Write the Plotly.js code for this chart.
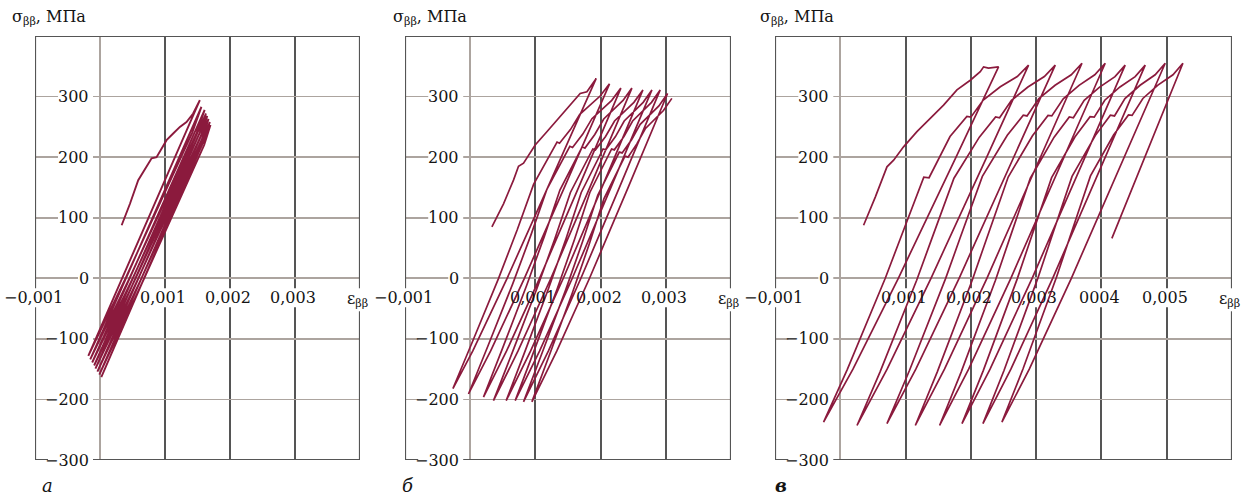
<!DOCTYPE html>
<html>
<head>
<meta charset="utf-8">
<script src="https://cdn.plot.ly/plotly-3.0.1.min.js"></script>
<style>
html,body{margin:0;padding:0;background:#fff;}
#chart{width:1258px;height:496px;}
</style>
</head>
<body>
<div id="chart"></div>
<script>
// ---------- data (strain eps, stress sig in MPa) ----------
// panel а
const eps_a = [0.000333,0.000461,0.000588,0.000691,0.000794,0.00087,0.000947,0.001024,0.001126,0.001229,0.001331,0.001433,0.001536,
  0.00034,-0.00018,
  0.000392,0.001418,0.00156,
  0.0004,-0.00015,
  0.000452,0.001488,0.00161,
  0.000457,-0.00012,
  0.000502,0.001534,0.00163,
  0.000505,-0.00009,
  0.000548,0.001551,0.00165,
  0.000545,-0.00007,
  0.000589,0.00157,0.00167,
  0.000592,-0.00004,
  0.000637,0.001591,0.00169,
  0.000638,-0.00001,
  0.00068,0.001603,0.0017,
  0.000678,0.00002];
const sig_a = [87.6,123,162,181,198,200,214,228,239,250,258,272,294,
  0,-128,
  0,240,283,
  0,-134,
  0,240,278,
  0,-139,
  0,240,272,
  0,-144,
  0,235,268,
  0,-149,
  0,230,263,
  0,-154,
  0,225,258,
  0,-159,
  0,220,253,
  0,-163];

// panel б
const eps_b = [0.000333,0.000511,0.000664,0.000741,0.000818,0.000997,0.001176,0.00138,0.00156,0.001687,0.00179,0.00184,0.001933,
  0.00119,0.000566,0.00004,-0.000265,
  0.000047,0.000432,0.00072,0.000972,0.001332,0.00137,0.001537,0.001681,0.001993,0.002137,
  0.001445,0.000831,0.000314,-0.000026,
  0.000278,0.000652,0.000932,0.001178,0.001528,0.00157,0.001727,0.001867,0.002171,0.002311,
  0.001663,0.001064,0.000558,0.000204,
  0.0005,0.000864,0.001137,0.001376,0.001718,0.00176,0.001911,0.002048,0.002344,0.00248,
  0.001835,0.001238,0.000734,0.000357,
  0.000655,0.001022,0.001297,0.001537,0.001881,0.00192,0.002076,0.002214,0.002511,0.002649,
  0.002021,0.001428,0.000927,0.000552,
  0.000843,0.0012,0.001468,0.001703,0.002038,0.00208,0.002228,0.002362,0.002653,0.002787,
  0.002159,0.001566,0.001065,0.00069,
  0.000979,0.001335,0.001602,0.001835,0.002169,0.00221,0.002358,0.002491,0.002781,0.002914,
  0.002289,0.001698,0.0012,0.000818,
  0.001105,0.001459,0.001724,0.001956,0.002287,0.00233,0.002475,0.002607,0.002894,0.003027,
  0.002423,0.00183,0.001329,0.000946,
  0.001225,0.001569,0.001826,0.002052,0.002374,0.00242,0.002556,0.002685,0.002964,0.003093];
const sig_b = [85,123,162,185,190,220,242,267,289,305,308,316,330,
  150,0,-120,-182,
  -101.5,-0.9,79.6,155,225,223,245.5,270.7,300.9,321,
  150,0,-120,-191,
  -110.2,-9.2,71.6,147.4,218,216,238,263.5,293.8,314,
  150,0,-120,-196,
  -114.4,-12.4,69.2,145.7,217.1,215,237.5,263,293.6,314,
  150,0,-120,-202,
  -119.9,-17.3,64.8,141.7,213.5,212,234,259.7,290.5,311,
  150,0,-120,-202,
  -119.9,-17.3,64.8,141.7,213.5,212,234,259.7,290.5,311,
  150,0,-120,-202,
  -119.9,-17.3,64.8,141.7,213.5,212,234,259.7,290.5,311,
  150,0,-120,-204,
  -122.6,-20.8,60.7,137,208.3,207,228.7,254.1,284.6,305,
  150,0,-120,-204,
  -123.8,-23.6,56.5,131.7,201.8,200,221.9,246.9,277,297];

// panel в
const eps_v = [0.000357,0.000536,0.000715,0.000817,0.000969,0.001174,0.001378,0.001582,0.001787,0.001991,0.002144,0.002195,0.00227,0.002424,
  0.001773,0.000889,0.000194,-0.000256,
  0.000108,0.000689,0.000922,0.001279,0.00136,0.001681,0.001939,0.002,0.00219,0.002451,0.002711,0.002884,
  0.002243,0.001389,0.000717,0.000256,
  0.000608,0.00117,0.001395,0.001741,0.00213,0.002379,0.00244,0.002622,0.002874,0.003126,0.003293,
  0.002661,0.00182,0.001157,0.000715,
  0.001061,0.001614,0.001835,0.002176,0.002558,0.002803,0.00286,0.003042,0.00329,0.003538,0.003702,
  0.00307,0.002246,0.001596,0.001149,
  0.001486,0.002025,0.00224,0.002572,0.002944,0.003182,0.00324,0.003415,0.003657,0.003898,0.004058,
  0.00343,0.002612,0.001966,0.001521,
  0.001851,0.002377,0.002587,0.002911,0.003275,0.003508,0.00357,0.003736,0.003972,0.004208,0.004364,
  0.003752,0.002938,0.002294,0.001864,
  0.00219,0.002709,0.002917,0.003237,0.003596,0.003826,0.00389,0.004051,0.004284,0.004517,0.004671,
  0.004063,0.003253,0.002613,0.002185,
  0.002509,0.003025,0.003232,0.00355,0.003908,0.004137,0.0042,0.00436,0.004592,0.004823,0.004977,
  0.004353,0.003539,0.002895,0.002476,
  0.002798,0.00331,0.003516,0.003832,0.004186,0.004414,0.00447,0.004635,0.004865,0.005096,0.005248,
  0.004664,0.00416];
const sig_v = [87.6,134,184,195,217,242,264,286,311,327,341,349,347,349,
  200,0,-150,-237.5,
  -150.3,0.1,66.1,166.9,166,234.1,267.1,266,294.2,316.1,333.1,352,
  200,0,-150,-243,
  -154.9,-3.2,63.4,165.2,233,266.3,265,293.7,315.7,333,352,
  200,0,-150,-240,
  -151.9,-0.2,66.4,168.2,236,269.3,268,296.7,318.7,336,355,
  200,0,-150,-243,
  -154.5,-2,65,167.2,235.4,268.9,268,296.4,318.5,335.9,355,
  200,0,-150,-243,
  -154.9,-3.2,63.4,165.2,233,266.3,265,293.7,315.7,333,352,
  200,0,-150,-240,
  -152.4,-1.4,64.9,166.1,233.6,266.8,266,294,315.9,333,352,
  200,0,-150,-240,
  -151.9,-0.2,66.4,168.2,236,269.3,268,296.7,318.7,336,355,
  200,0,-150,-237.5,
  -149.8,1.3,67.6,169,236.5,269.7,269,296.9,318.9,336,355,
  200,66];

// axes / labels
const yTickVals = [300,200,100,0,-100,-200,-300];
const yTickText = ['300','200','100','0','\u2212100','\u2212200','\u2212300'];
const xTickVals_a = [-0.001,0.001,0.002,0.003];
const xTickText_a = ['\u22120,001','0,001','0,002','0,003'];
const xTickVals_b = [-0.001,0.001,0.002,0.003];
const xTickText_b = ['\u22120,001','0,001','0,002','0,003'];
const xTickVals_v = [-0.001,0.001,0.002,0.003,0.004,0.005];
const xTickText_v = ['\u22120,001','0,001','0,002','0,003','0004','0,005'];
const xRanges = [[-0.001,0.004],[-0.001,0.004],[-0.001,0.006]];
const yRange = [-300,400];
const panelLetters = ['а','б','в'];
const yTitleText = 'σ<sub>ββ</sub>, МПа';
const xTitleText = 'ε<sub>ββ</sub>';

// ---------- layout ----------
const W = 1258, H = 496;
const CURVE = '#8b1a3d';
const DARK = '#555555';
const LIGHT = '#aca49f';
const TXT = '#141414';
const FONT = 'DejaVu Serif';
const FS = 16;

const pxDomains = [[35,360],[405,731],[775,1232]];
const yDom = [(H-460)/H, (H-36)/H];
const titleLeft = [10,391,758];
const letterX = [47,408,781];

const sets = [
  {eps: eps_a, sig: sig_a, xv: xTickVals_a, xt: xTickText_a},
  {eps: eps_b, sig: sig_b, xv: xTickVals_b, xt: xTickText_b},
  {eps: eps_v, sig: sig_v, xv: xTickVals_v, xt: xTickText_v}
];

const traces = [];
const layout = {
  width: W, height: H,
  margin: {l:0, r:0, t:0, b:0},
  paper_bgcolor: '#fff', plot_bgcolor: '#fff',
  showlegend: false,
  font: {family: FONT, size: FS, color: TXT},
  shapes: [], annotations: []
};

function textW(s){ return s.length * 10 + 3; }

sets.forEach((s, i) => {
  const n = i === 0 ? '' : String(i+1);
  const xr = 'x' + n, yr = 'y' + n;
  traces.push({
    x: s.eps, y: s.sig, xaxis: xr, yaxis: yr,
    type: 'scatter', mode: 'lines',
    line: {color: CURVE, width: i === 0 ? 1.9 : 1.7},
    hoverinfo: 'skip'
  });
  layout['xaxis' + n] = {
    domain: [pxDomains[i][0]/W, pxDomains[i][1]/W],
    range: xRanges[i], anchor: yr,
    tick0: 0, dtick: 0.001, showticklabels: false, ticks: '',
    showgrid: true, gridcolor: DARK, gridwidth: 2,
    zeroline: true, zerolinecolor: LIGHT, zerolinewidth: 1.6,
    showline: false, fixedrange: true
  };
  layout['yaxis' + n] = {
    domain: yDom, range: yRange, anchor: xr,
    tick0: 0, dtick: 100, showticklabels: false, ticks: '',
    showgrid: true, gridcolor: LIGHT, gridwidth: 1.6,
    zeroline: true, zerolinecolor: LIGHT, zerolinewidth: 1.6,
    showline: false, fixedrange: true
  };
  // frame
  layout.shapes.push({type:'rect', xref: xr, yref: yr, layer: 'between',
    x0: xRanges[i][0], x1: xRanges[i][1], y0: yRange[0], y1: yRange[1],
    line: {color: DARK, width: 2.2}, fillcolor: 'rgba(0,0,0,0)'});
  // y tick labels
  yTickVals.forEach((v, k) => {
    const w = textW(yTickText[k]);
    layout.shapes.push({type:'rect', xref: xr, yref: yr, layer:'between',
      xsizemode:'pixel', ysizemode:'pixel', xanchor: 0, yanchor: v,
      x0: -9 - w, x1: -7, y0: -9, y1: 9,
      line:{width:0}, fillcolor:'#fff'});
    layout.annotations.push({xref: xr, yref: yr, x: 0, y: v,
      xanchor:'right', yanchor:'middle', xshift: -9, yshift: 0,
      text: yTickText[k], showarrow:false, font:{family:FONT,size:FS,color:TXT}});
  });
  // x tick labels
  s.xv.forEach((v, k) => {
    const w = textW(s.xt[k]);
    layout.shapes.push({type:'rect', xref: xr, yref: yr, layer:'between',
      xsizemode:'pixel', ysizemode:'pixel', xanchor: v, yanchor: 0,
      x0: -w/2 - 2, x1: w/2 - 2, y0: -29, y1: -10,
      line:{width:0}, fillcolor:'#fff'});
    layout.annotations.push({xref: xr, yref: yr, x: v, y: 0,
      xanchor:'center', yanchor:'middle', xshift: -2, yshift: -19,
      text: s.xt[k], showarrow:false, font:{family:FONT,size:FS,color:TXT}});
  });
  // x axis title at the right end
  layout.shapes.push({type:'rect', xref: xr, yref: yr, layer:'between',
    xsizemode:'pixel', ysizemode:'pixel', xanchor: xRanges[i][1], yanchor: 0,
    x0: -14, x1: 14, y0: -33, y1: -10,
    line:{width:0}, fillcolor:'#fff'});
  layout.annotations.push({xref: xr, yref: yr, x: xRanges[i][1], y: 0,
    xanchor:'center', yanchor:'middle', xshift: -3, yshift: -21,
    text: xTitleText, showarrow:false, font:{family:FONT,size:FS,color:TXT}});
  // y axis title
  layout.annotations.push({xref:'paper', yref:'paper', x: titleLeft[i]/W, y: 1 - 18/H,
    xanchor:'left', yanchor:'middle', text: yTitleText, showarrow:false,
    font:{family:FONT,size:FS,color:TXT}});
  // panel letter
  const let_txt = i === 2 ? '<b><i>' + panelLetters[i] + '</i></b>' : '<i>' + panelLetters[i] + '</i>';
  layout.annotations.push({xref:'paper', yref:'paper', x: letterX[i]/W, y: 1 - 485/H,
    xanchor:'center', yanchor:'middle', text: let_txt, showarrow:false,
    font:{family:FONT,size:FS+2,color:TXT}});
});

Plotly.newPlot('chart', traces, layout, {displayModeBar:false, staticPlot:true});
</script>
</body>
</html>
